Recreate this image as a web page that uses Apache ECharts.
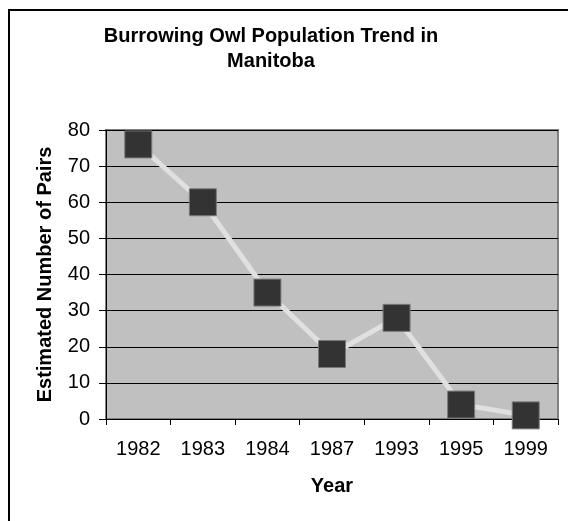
<!DOCTYPE html>
<html>
<head>
<meta charset="utf-8">
<script src="https://cdn.jsdelivr.net/npm/echarts@6/dist/echarts.min.js"></script>
<style>
  html, body { margin: 0; padding: 0; background: #fff; }
  #chart { width: 568px; height: 521px; }
</style>
</head>
<body>
<div id="chart"></div>
<script>
// Data
const years = ['1982', '1983', '1984', '1987', '1993', '1995', '1999'];
const pairs = [76, 60, 35, 18, 28, 4, 1];
const yTicks = [0, 80, 10]; // min, max, interval

const FONT = '"Liberation Sans", Arial, sans-serif';

const chart = echarts.init(document.getElementById('chart'));

chart.setOption({
    backgroundColor: '#fff',
    animation: false,
    title: {
        text: 'Burrowing Owl Population Trend in\nManitoba',
        left: 266,
        top: 19,
        textAlign: 'center',
        textStyle: { fontFamily: FONT, fontSize: 20, fontWeight: 'bold', color: '#000', lineHeight: 25 }
    },
    graphic: [{
        // outer chart frame, cropped at the right and bottom
        type: 'rect',
        shape: { x: 9, y: 10, width: 620, height: 600 },
        style: { fill: 'none', stroke: '#000', lineWidth: 2 },
        z: 10
    }],
    grid: {
        left: 106, right: 10, top: 130, bottom: 102,
        show: true,
        backgroundColor: '#c0c0c0',
        borderColor: '#808080',
        borderWidth: 2
    },
    xAxis: {
        type: 'category',
        data: years,
        boundaryGap: true,
        name: 'Year',
        nameLocation: 'middle',
        nameGap: 57,
        nameTextStyle: { fontFamily: FONT, fontSize: 20, fontWeight: 'bold', color: '#000' },
        axisLine: { lineStyle: { color: '#000', width: 1 } },
        axisTick: { show: true, interval: 0, length: 6, lineStyle: { color: '#000' } },
        axisLabel: { fontFamily: FONT, fontSize: 20, color: '#000', margin: 20, interval: 0 }
    },
    yAxis: {
        type: 'value',
        min: yTicks[0],
        max: yTicks[1],
        interval: yTicks[2],
        name: 'Estimated Number of Pairs',
        nameLocation: 'middle',
        nameGap: 51,
        nameTextStyle: { fontFamily: FONT, fontSize: 20, fontWeight: 'bold', color: '#000' },
        axisLine: { show: true, lineStyle: { color: '#000', width: 1 } },
        axisTick: { show: true, length: 7, lineStyle: { color: '#000' } },
        axisLabel: { fontFamily: FONT, fontSize: 20, color: '#000', margin: 16 },
        splitLine: { show: true, lineStyle: { color: '#000', width: 1 } }
    },
    series: [{
        type: 'line',
        data: pairs,
        symbol: 'rect',
        symbolSize: 27,
        lineStyle: { color: '#e0e0e0', width: 5 },
        itemStyle: { color: '#333333', borderColor: '#7a7a7a', borderWidth: 1 },
        z: 5
    }]
});
</script>
</body>
</html>
